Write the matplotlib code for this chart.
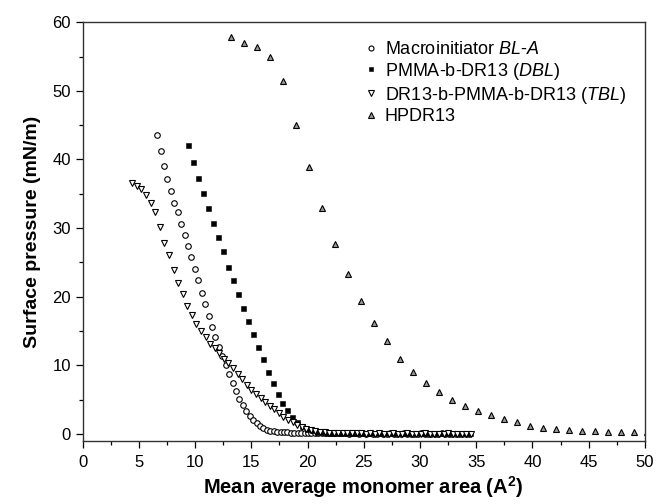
import matplotlib
matplotlib.use("Agg")
import matplotlib.pyplot as plt
from matplotlib.ticker import MultipleLocator

plt.rcParams["font.family"] = ["Liberation Sans", "DejaVu Sans"]
plt.rcParams["mathtext.fontset"] = "custom"
plt.rcParams["mathtext.rm"] = "Liberation Sans"
plt.rcParams["mathtext.it"] = "Liberation Sans:italic"
plt.rcParams["mathtext.bf"] = "Liberation Sans:bold"

# Macroinitiator BL-A (open circles)
bla_x = [6.62, 6.93, 7.23, 7.54, 7.84, 8.15, 8.45, 8.76, 9.06, 9.37,
         9.67, 9.98, 10.28, 10.59, 10.89, 11.20, 11.50, 11.81, 12.11, 12.42,
         12.72, 13.03, 13.33, 13.64, 13.94, 14.25, 14.55, 14.86, 15.16, 15.47,
         15.77, 16.08, 16.38, 16.69, 16.99, 17.30, 17.60, 17.91, 18.21, 18.52,
         18.82, 19.13, 19.43, 19.74, 20.04, 20.35, 20.65, 20.96, 21.26, 21.57,
         21.87, 22.18, 22.48, 22.79, 23.09, 23.40, 23.70, 24.01, 24.31, 24.62,
         24.92, 25.23, 25.53, 25.84, 26.14, 26.45, 26.75, 27.06, 27.36, 27.67,
         27.97, 28.28, 28.58, 28.89, 29.19, 29.50, 29.80, 30.11, 30.41, 30.72,
         31.02, 31.33, 31.63, 31.94, 32.24, 32.55, 32.85, 33.16, 33.46, 33.77,
         34.07, 34.38]
bla_y = [43.6, 41.3, 39.0, 37.1, 35.4, 33.7, 32.3, 30.6, 29.0, 27.4,
         25.8, 24.1, 22.4, 20.5, 18.9, 17.2, 15.6, 14.1, 12.7, 11.4,
         10.1, 8.7, 7.5, 6.3, 5.1, 4.2, 3.4, 2.7, 2.1, 1.6,
         1.15, 0.86, 0.62, 0.5, 0.42, 0.36, 0.31, 0.27, 0.24, 0.21,
         0.19, 0.17, 0.15, 0.14, 0.13, 0.12, 0.12, 0.11, 0.11, 0.1,
         0.1, 0.1, 0.1, 0.1, 0.1, 0.1, 0.09, 0.1, 0.1, 0.09,
         0.1, 0.09, 0.1, 0.09, 0.09, 0.1, 0.09, 0.09, 0.1, 0.09,
         0.09, 0.09, 0.1, 0.09, 0.09, 0.09, 0.09, 0.1, 0.09, 0.09,
         0.09, 0.09, 0.09, 0.1, 0.09, 0.09, 0.09, 0.09, 0.09, 0.09,
         0.09, 0.09]

# PMMA-b-DR13 DBL (filled squares)
dbl_x = [9.41, 9.85, 10.29, 10.73, 11.17, 11.61, 12.05, 12.49, 12.93, 13.37,
         13.81, 14.25, 14.69, 15.13, 15.57, 16.01, 16.45, 16.89, 17.33, 17.77,
         18.21, 18.65, 19.09, 19.53, 19.97, 20.41, 20.85, 21.29, 21.73, 22.17,
         22.61, 23.05, 23.49, 23.93, 24.37, 24.81, 25.25, 25.69, 26.13, 26.57,
         27.01, 27.45, 27.89, 28.33, 28.77, 29.21, 29.65, 30.09, 30.53, 30.97,
         31.41, 31.85, 32.29, 32.73, 33.17, 33.61, 34.05, 34.49]
dbl_y = [42.1, 39.6, 37.3, 35.1, 32.9, 30.7, 28.7, 26.6, 24.4, 22.4,
         20.4, 18.3, 16.5, 14.6, 12.7, 10.9, 9.1, 7.4, 5.9, 4.6,
         3.5, 2.5, 1.75, 1.15, 0.8, 0.55, 0.38, 0.27, 0.2, 0.16,
         0.13, 0.12, 0.11, 0.1, 0.1, 0.1, 0.1, 0.1, 0.1, 0.1,
         0.1, 0.1, 0.1, 0.1, 0.1, 0.1, 0.1, 0.1, 0.1, 0.1,
         0.1, 0.1, 0.1, 0.1, 0.1, 0.1, 0.1, 0.1]

# DR13-b-PMMA-b-DR13 TBL (open down triangles)
tbl_x = [4.42, 4.83, 5.23, 5.64, 6.05, 6.46, 6.86, 7.27, 7.68, 8.08,
         8.49, 8.90, 9.30, 9.71, 10.12, 10.53, 10.93, 11.34, 11.75, 12.15,
         12.56, 12.97, 13.37, 13.78, 14.19, 14.60, 15.00, 15.41, 15.82, 16.22,
         16.63, 17.04, 17.44, 17.85, 18.26, 18.67, 19.07, 19.48, 19.89, 20.29,
         20.70, 21.11, 21.51, 21.92, 22.33, 22.74, 23.14, 23.55, 23.96, 24.36,
         24.77, 25.18, 25.58, 25.99, 26.40, 26.81, 27.21, 27.62, 28.03, 28.43,
         28.84, 29.25, 29.65, 30.06, 30.47, 30.88, 31.28, 31.69, 32.10, 32.50,
         32.91, 33.32, 33.72, 34.13, 34.54]
tbl_y = [36.6, 36.2, 35.7, 34.8, 33.7, 32.3, 30.2, 27.9, 26.1, 23.9,
         22.0, 20.4, 18.7, 17.3, 16.0, 15.0, 14.1, 13.2, 12.5, 11.8,
         11.0, 10.3, 9.6, 8.8, 8.0, 7.2, 6.5, 5.9, 5.3, 4.7,
         4.15, 3.6, 3.05, 2.55, 2.1, 1.7, 1.35, 1.05, 0.8, 0.6,
         0.45, 0.33, 0.25, 0.2, 0.16, 0.14, 0.12, 0.11, 0.1, 0.1,
         0.1, 0.09, 0.1, 0.09, 0.1, 0.09, 0.09, 0.1, 0.09, 0.09,
         0.1, 0.09, 0.09, 0.09, 0.1, 0.09, 0.09, 0.09, 0.09, 0.1,
         0.09, 0.09, 0.09, 0.09, 0.09]

# HPDR13 (grey up triangles)
hp_x = [13.17, 14.33, 15.49, 16.64, 17.80, 18.99, 20.14, 21.30, 22.46, 23.61,
        24.77, 25.90, 27.05, 28.20, 29.35, 30.50, 31.67, 32.83, 33.98, 35.14,
        36.30, 37.45, 38.60, 39.76, 40.92, 42.07, 43.23, 44.38, 45.54, 46.70,
        47.85, 49.00, 50.16]
hp_y = [57.8, 57.0, 56.4, 54.9, 51.4, 45.0, 38.9, 33.0, 27.7, 23.3,
        19.4, 16.2, 13.5, 11.0, 9.1, 7.5, 6.1, 5.0, 4.1, 3.4,
        2.8, 2.2, 1.7, 1.25, 0.9, 0.75, 0.6, 0.5, 0.45, 0.38,
        0.32, 0.28, 0.25]

labels = [r"Macroinitiator $\mathit{BL}$-$\mathit{A}$",
          r"PMMA-b-DR13 ($\mathit{DBL}$)",
          r"DR13-b-PMMA-b-DR13 ($\mathit{TBL}$)",
          "HPDR13"]

fig = plt.figure(figsize=(6.56, 5.04), dpi=100)
ax = fig.add_axes([0.126, 0.125, 0.857, 0.831])

ax.plot(bla_x, bla_y, "o", ms=4.0, mfc="white", mec="black", mew=0.8, label=labels[0])
ax.plot(dbl_x, dbl_y, "s", ms=3.6, mfc="black", mec="black", mew=0.4, label=labels[1])
ax.plot(tbl_x, tbl_y, "v", ms=4.4, mfc="white", mec="black", mew=0.8, label=labels[2])
ax.plot(hp_x, hp_y, "^", ms=4.3, mfc="#999999", mec="black", mew=0.8, label=labels[3])

ax.set_xlim(0, 50)
ax.set_ylim(-1, 60)
ax.xaxis.set_major_locator(MultipleLocator(5))
ax.xaxis.set_minor_locator(MultipleLocator(2.5))
ax.yaxis.set_major_locator(MultipleLocator(10))
ax.yaxis.set_minor_locator(MultipleLocator(5))
ax.tick_params(which="both", direction="out", top=False, right=False, labelsize=12)
ax.tick_params(axis="x", pad=5)
ax.tick_params(which="major", length=5, width=0.9)
ax.tick_params(which="minor", length=3, width=0.9)
for sp in ax.spines.values():
    sp.set_linewidth(1.0)
    sp.set_color("#333333")

ax.set_xlabel(r"Mean average monomer area (A$^{\mathbf{2}}$)", fontsize=14.5, fontweight="bold", labelpad=3)
ax.set_ylabel("Surface pressure (mN/m)", fontsize=14, fontweight="bold", labelpad=8)

ax.legend(loc="upper left", bbox_to_anchor=(0.478, 0.985), frameon=False, fontsize=13,
          handlelength=0.8, handletextpad=0.35, labelspacing=0.15, markerscale=0.9,
          borderpad=0.2)

fig.savefig("out.png", dpi=100)
